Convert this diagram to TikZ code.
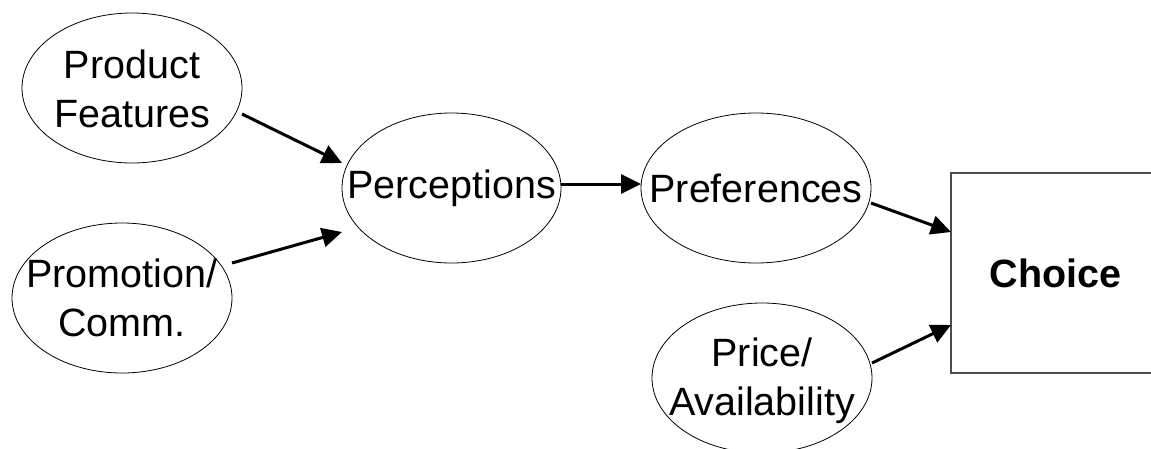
\documentclass[tikz,border=0pt]{standalone}
\usepackage{fontspec}
\setmainfont{Liberation Sans}
\usetikzlibrary{shapes.geometric,arrows.meta}
\begin{document}
\begin{tikzpicture}[x=1pt,y=-1pt,
  oval/.style={draw, ellipse, line width=0.8pt, inner sep=0pt, outer sep=0pt, minimum width=220pt, minimum height=150pt},
  lbl/.style={align=center, inner sep=0pt, font=\fontsize{39.5}{49}\selectfont},
  conn/.style={line width=3pt, -{Triangle[length=20pt,width=19pt]}},
  box/.style={draw=black!70, line width=1.2pt, outer sep=0pt, minimum width=209pt, minimum height=200pt, inner sep=0pt, font=\bfseries\fontsize{39.5}{49}\selectfont}]
\useasboundingbox (0,0) rectangle (1151,448);
\node[oval] (pf) at (132,88) {};
\node[lbl] (pft) at ([yshift=-1pt]pf.center) {Product\\Features};
\node[oval] (pm) at (122,298) {};
\node[lbl] (pmt) at (pm.center) {Promotion/\\Comm.};
\node[oval, minimum width=219pt] (perc) at (451.5,188) {};
\node[lbl] (perct) at (perc.center) {Perceptions};
\node[oval, minimum width=230pt] (pref) at (756,188) {};
\node[lbl] (preft) at (pref.center) {Preferences};
\node[oval] (price) at (762,378) {};
\node[lbl] (pricet) at ([yshift=-3pt]price.center) {Price/\\Availability};
\node[box] (choice) at (1055.5,273) {Choice};
\draw[conn] ([yshift=-26pt]pf.east) -- ([yshift=25pt]perc.west);
\draw[conn] ([yshift=35pt]pm.east) -- ([yshift=-44pt]perc.west);
\draw[conn] ([yshift=4pt]perc.east) -- ([yshift=4pt]pref.west);
\draw[conn] ([yshift=-15pt]pref.east) -- ([yshift=41pt]choice.west);
\draw[conn] ([yshift=15pt]price.east) -- ([yshift=-52pt]choice.west);
\end{tikzpicture}
\end{document}
